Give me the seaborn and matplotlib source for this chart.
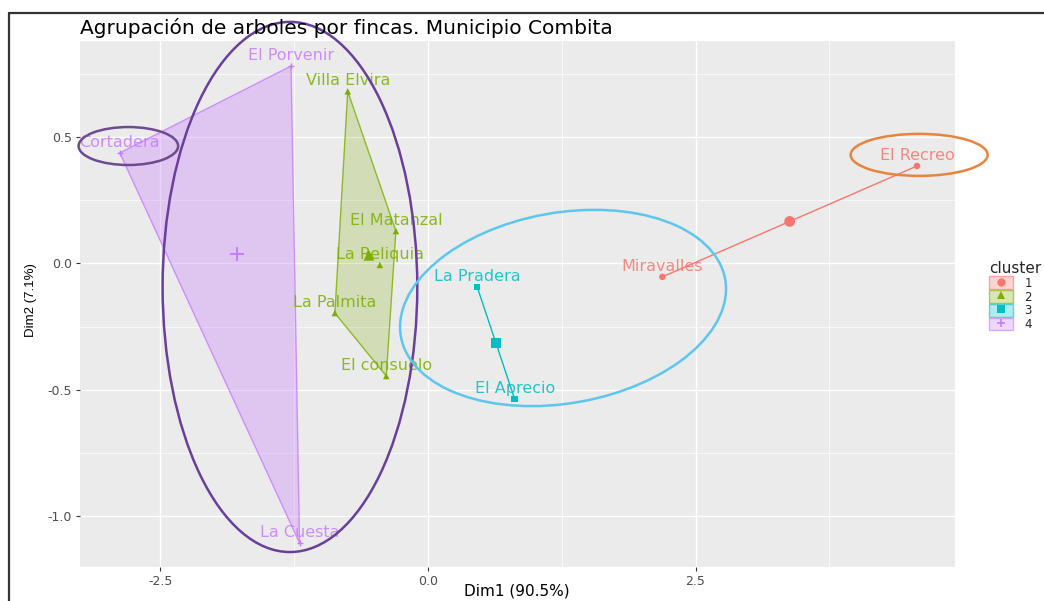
import numpy as np
import pandas as pd
import matplotlib
matplotlib.use("Agg")
import matplotlib.pyplot as plt
import seaborn as sns
from matplotlib.patches import Ellipse, Patch
from matplotlib.lines import Line2D
from matplotlib.legend_handler import HandlerTuple
from matplotlib.colors import to_rgba

# Farms and their coordinates on the first two principal dimensions
fincas = ["El Recreo", "Miravalles", "Villa Elvira", "El Matanzal", "La Reliquia",
          "La Palmita", "El consuelo", "La Pradera", "El Aprecio", "El Porvenir",
          "Cortadera", "La Cuesta"]
cluster = [1, 1, 2, 2, 2, 2, 2, 3, 3, 4, 4, 4]
dim1 = [4.57, 2.19, -0.75, -0.30, -0.45, -0.87, -0.39, 0.46, 0.81, -1.28, -2.88, -1.20]
dim2 = [0.385, -0.053, 0.68, 0.128, -0.006, -0.196, -0.445, -0.093, -0.536, 0.78, 0.437, -1.105]

cluster_ids = [1, 2, 3, 4]
palette = {1: "#F8766D", 2: "#7CAE00", 3: "#00BFC4", 4: "#C77CFF"}
markers = {1: "o", 2: "^", 3: "s", 4: "+"}

x_ticks = [-2.5, 0.0, 2.5]
y_ticks = [-1.0, -0.5, 0.0, 0.5]

# Highlight rings: (center x, center y, width, height, angle, colour)
rings = [
    (-2.80, 0.464, 0.93, 0.15, 0, "#6e4a8e"),
    (-1.29, -0.093, 2.38, 2.095, 0, "#6a3f9c"),
    (1.262, -0.176, 3.05, 0.76, 3, "#5ec6ee"),
    (4.59, 0.429, 1.28, 0.166, 0, "#e8843c"),
]

df = pd.DataFrame({"finca": fincas, "cluster": cluster, "Dim1": dim1, "Dim2": dim2})
centers = df.groupby("cluster")[["Dim1", "Dim2"]].mean().reset_index()


def convex_hull(pts):
    pts = sorted(set(map(tuple, pts)))
    if len(pts) <= 2:
        return pts

    def cross(o, a, b):
        return (a[0] - o[0]) * (b[1] - o[1]) - (a[1] - o[1]) * (b[0] - o[0])

    lower, upper = [], []
    for p in pts:
        while len(lower) >= 2 and cross(lower[-2], lower[-1], p) <= 0:
            lower.pop()
        lower.append(p)
    for p in reversed(pts):
        while len(upper) >= 2 and cross(upper[-2], upper[-1], p) <= 0:
            upper.pop()
        upper.append(p)
    return lower[:-1] + upper[:-1]


sns.set_theme(style="darkgrid")
plt.rcParams["font.family"] = ["DejaVu Sans"]

fig = plt.figure(figsize=(10.44, 6.01), dpi=100)
ax = fig.add_axes([80 / 1044, 1 - 567 / 601, 875 / 1044, 526 / 601])
ax.set_facecolor("#EBEBEB")

# Cluster hulls
for c in cluster_ids:
    sub = df[df.cluster == c]
    hull = convex_hull(sub[["Dim1", "Dim2"]].values)
    col = palette[c]
    if len(hull) >= 3:
        alpha = 0.33 if c == 4 else 0.22
        ax.fill([p[0] for p in hull], [p[1] for p in hull], facecolor=to_rgba(col, alpha),
                edgecolor=to_rgba(col, 0.8), lw=1.0, zorder=2)
    else:
        ax.plot([p[0] for p in hull], [p[1] for p in hull], color=col, lw=1.0, zorder=2)

# Individual farms and cluster centres (filled markers)
filled = df[df.cluster != 4]
filled_c = centers[centers.cluster != 4]
fill_markers = {k: v for k, v in markers.items() if k != 4}
fill_pal = {k: v for k, v in palette.items() if k != 4}
sns.scatterplot(data=filled, x="Dim1", y="Dim2", hue="cluster", style="cluster",
                palette=fill_pal, markers=fill_markers, s=22, linewidth=0,
                legend=False, ax=ax, zorder=3)
sns.scatterplot(data=filled_c, x="Dim1", y="Dim2", hue="cluster", style="cluster",
                palette=fill_pal, markers=fill_markers, s=60, linewidth=0,
                legend=False, ax=ax, zorder=3)
# Cluster 4 uses a line-art plus marker
sns.scatterplot(data=df[df.cluster == 4], x="Dim1", y="Dim2", color=palette[4],
                marker="+", s=25, linewidth=1.0, legend=False, ax=ax, zorder=3)
sns.scatterplot(data=centers[centers.cluster == 4], x="Dim1", y="Dim2", color=palette[4],
                marker="+", s=90, linewidth=1.4, legend=False, ax=ax, zorder=3)

for _, r in df.iterrows():
    ax.annotate(r.finca, (r.Dim1, r.Dim2), xytext=(0, 7.5), textcoords="offset points",
                ha="center", va="center", fontsize=11.5, color=palette[r.cluster],
                alpha=0.85, zorder=4)

for cx, cy, w, h, ang, col in rings:
    ax.add_patch(Ellipse((cx, cy), w, h, angle=ang, fill=False, edgecolor=col,
                         lw=1.8, clip_on=False, zorder=5))

ax.set_xlim(-3.252, 4.925)
ax.set_ylim(-1.1996, 0.879)
ax.set_xticks(x_ticks)
ax.set_xticklabels([f"{v:.1f}" for v in x_ticks])
ax.set_yticks(y_ticks)
ax.set_yticklabels([f"{v:.1f}" for v in y_ticks])
ax.set_xticks([-1.25, 1.25, 3.75], minor=True)
ax.set_yticks([-0.75, -0.25, 0.25, 0.75], minor=True)
ax.grid(which="major", color="white", lw=1.0)
ax.grid(which="minor", color="white", lw=0.5)
ax.tick_params(which="major", length=3, width=0.8, color="#333333",
               labelcolor="#4D4D4D", labelsize=9, pad=3, bottom=True, left=True)
ax.tick_params(which="minor", length=0)
for s in ax.spines.values():
    s.set_visible(False)
ax.set_xlabel("")
ax.set_ylabel("")
fig.text(517 / 1044, 1 - 591 / 601, "Dim1 (90.5%)", ha="center", va="center",
         fontsize=11, color="black")
fig.text(31 / 1044, 1 - 300 / 601, "Dim2 (7.1%)", ha="center", va="center",
         rotation=90, fontsize=9.5, color="black", family="Liberation Sans")

fig.text(80 / 1044, 1 - 28 / 601, "Agrupación de arboles por fincas. Municipio Combita",
         ha="left", va="center", fontsize=14.5, color="black")

# Legend
handles = []
for c in cluster_ids:
    mk = Line2D([], [], marker=markers[c], color=palette[c], ls="", ms=6,
                markeredgewidth=1.2 if c == 4 else 0)
    handles.append((Patch(facecolor=to_rgba(palette[c], 0.3),
                          edgecolor=to_rgba(palette[c], 0.6)), mk))
leg = fig.legend(handles, [str(c) for c in cluster_ids], title="cluster",
                 handler_map={tuple: HandlerTuple(ndivide=1, pad=0)},
                 loc="upper left", bbox_to_anchor=(983 / 1044, 1 - 255 / 601),
                 frameon=False, fontsize=8.5, title_fontsize=11, handlelength=2.0,
                 handleheight=1.25, labelspacing=0.05, borderpad=0, handletextpad=1.0)
leg._legend_box.align = "left"

# Outer frame edges
fig.add_artist(Line2D([9 / 1044, 1], [1 - 13 / 601, 1 - 13 / 601], transform=fig.transFigure,
                      color="#333333", lw=1.6))
fig.add_artist(Line2D([9 / 1044, 9 / 1044], [0, 1 - 13 / 601], transform=fig.transFigure,
                      color="#333333", lw=1.6))

fig.savefig("out.png", dpi=100, facecolor="white")
